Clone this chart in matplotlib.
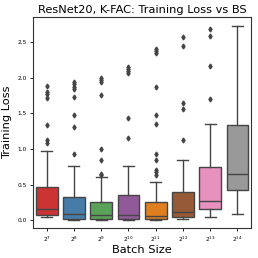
import colorsys
import matplotlib
matplotlib.use("Agg")
import matplotlib.pyplot as plt
import matplotlib.colors as mcolors

# ---- data ----
batch_exp = [7, 8, 9, 10, 11, 12, 13, 14]
tick_labels = [f"$2^{{{e}}}$" for e in batch_exp]
whislo = [0.05, 0.01, 0.01, 0.01, 0.01, 0.015, 0.04, 0.085]
q1 = [0.08, 0.02, 0.02, 0.02, 0.02, 0.05, 0.16, 0.43]
med = [0.155, 0.094, 0.07, 0.08, 0.06, 0.11, 0.27, 0.655]
q3 = [0.47, 0.32, 0.26, 0.35, 0.26, 0.40, 0.75, 1.34]
whishi = [0.97, 0.76, 0.61, 0.76, 0.54, 0.85, 1.35, 2.72]
fliers = [
    [1.88, 1.80, 1.77, 1.71, 1.33, 1.12, 1.09],
    [1.94, 1.91, 1.87, 1.84, 1.73, 1.48, 1.31, 0.93],
    [2.00, 1.96, 1.94, 1.76, 1.00, 0.84, 0.645, 0.63],
    [2.15, 2.12, 2.09, 2.07, 1.44, 1.16],
    [2.40, 2.37, 2.34, 1.87, 1.48, 1.35, 0.93, 0.85, 0.70, 0.67, 0.64],
    [2.57, 2.45, 1.64, 1.56, 1.13],
    [2.68, 2.58, 2.17, 1.70],
    [],
]
palette = ["#e41a1c", "#377eb8", "#4daf4a", "#984ea3",
           "#ff7f00", "#a65628", "#f781bf", "#999999"]


def desaturate(c, prop=0.75):
    r, g, b = mcolors.to_rgb(c)
    h, l, s = colorsys.rgb_to_hls(r, g, b)
    return colorsys.hls_to_rgb(h, l, s * prop)


colors = [desaturate(c) for c in palette]
line_gray = "#454545"

stats = []
for i in range(len(batch_exp)):
    stats.append(dict(whislo=whislo[i], q1=q1[i], med=med[i], q3=q3[i],
                      whishi=whishi[i], fliers=fliers[i], label=tick_labels[i]))

fig = plt.figure(figsize=(2.58, 2.58), dpi=100)
ax = fig.add_axes([0.128, 0.116, 0.845, 0.818])

lw = 1.0
bp = ax.bxp(stats, positions=range(len(stats)), widths=0.8, patch_artist=True,
            boxprops=dict(edgecolor=line_gray, linewidth=lw),
            medianprops=dict(color=line_gray, linewidth=lw),
            whiskerprops=dict(color=line_gray, linewidth=lw),
            capprops=dict(color=line_gray, linewidth=lw),
            flierprops=dict(marker="d", markerfacecolor=line_gray,
                            markeredgecolor=line_gray, markersize=2.5,
                            linestyle="none"))
for patch, c in zip(bp["boxes"], colors):
    patch.set_facecolor(c)

ax.set_xlim(-0.5, len(stats) - 0.5)
ax.set_ylim(-0.11, 2.85)
ax.set_yticks([0.0, 0.5, 1.0, 1.5, 2.0, 2.5])
ax.set_xticks(range(len(stats)))
ax.set_xticklabels(tick_labels)
ax.tick_params(axis="both", labelsize=4.2, length=2, width=0.6, pad=2.5)
for s in ax.spines.values():
    s.set_linewidth(0.8)
    s.set_color("#333333")

ax.set_title("ResNet20, K-FAC: Training Loss vs BS", fontsize=8.2, pad=3)
ax.set_xlabel("Batch Size", fontsize=8.2, labelpad=1)
ax.set_ylabel("Training Loss", fontsize=8.2, labelpad=4)

fig.savefig("out.png", dpi=100)
